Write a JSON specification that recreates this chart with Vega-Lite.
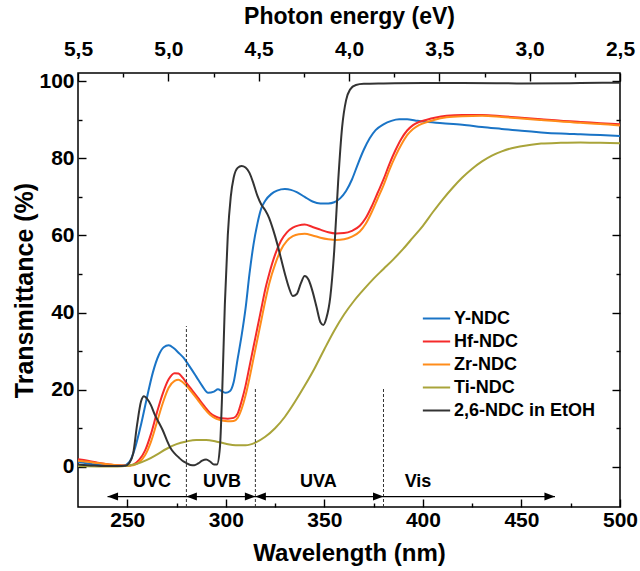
{
  "$schema": "https://vega.github.io/schema/vega-lite/v6.json",
  "width": 542,
  "height": 434,
  "autosize": {"type": "none"},
  "padding": {"left": 78, "top": 73, "right": 20, "bottom": 64},
  "config": {
    "view": {"stroke": "black", "strokeWidth": 1.5},
    "font": "Liberation Sans",
    "axis": {
      "domain": false,
      "grid": false,
      "tickColor": "black",
      "tickWidth": 1.4,
      "labelColor": "black",
      "titleColor": "black",
      "labelFont": "Liberation Sans",
      "titleFont": "Liberation Sans",
      "labelFontWeight": "bold",
      "titleFontWeight": "bold",
      "labelFontSize": 21,
      "titleFontSize": 24,
      "labelFlush": false,
      "labelOverlap": false
    }
  },
  "datasets": {
    "spectra": [
      {"s": "Y-NDC", "w": 225, "t": 1.3}, {"s": "Y-NDC", "w": 230, "t": 0.9}, {"s": "Y-NDC", "w": 235, "t": 0.6}, {"s": "Y-NDC", "w": 240, "t": 0.4}, {"s": "Y-NDC", "w": 245, "t": 0.3}, {"s": "Y-NDC", "w": 248, "t": 0.3}, {"s": "Y-NDC", "w": 251, "t": 1.2}, {"s": "Y-NDC", "w": 254, "t": 5}, {"s": "Y-NDC", "w": 257, "t": 11}, {"s": "Y-NDC", "w": 260, "t": 18}, {"s": "Y-NDC", "w": 263, "t": 24.5}, {"s": "Y-NDC", "w": 266, "t": 29}, {"s": "Y-NDC", "w": 268.5, "t": 31}, {"s": "Y-NDC", "w": 271, "t": 31.5}, {"s": "Y-NDC", "w": 273.5, "t": 30.8}, {"s": "Y-NDC", "w": 276, "t": 29.6}, {"s": "Y-NDC", "w": 278.5, "t": 28.3}, {"s": "Y-NDC", "w": 281, "t": 26.5}, {"s": "Y-NDC", "w": 285, "t": 23.4}, {"s": "Y-NDC", "w": 288, "t": 21}, {"s": "Y-NDC", "w": 291, "t": 19.2}, {"s": "Y-NDC", "w": 294, "t": 19.5}, {"s": "Y-NDC", "w": 296, "t": 20.1}, {"s": "Y-NDC", "w": 298, "t": 19.6}, {"s": "Y-NDC", "w": 300, "t": 19.2}, {"s": "Y-NDC", "w": 302, "t": 19.6}, {"s": "Y-NDC", "w": 304, "t": 22}, {"s": "Y-NDC", "w": 306, "t": 28}, {"s": "Y-NDC", "w": 308, "t": 34}, {"s": "Y-NDC", "w": 310, "t": 41}, {"s": "Y-NDC", "w": 312, "t": 50}, {"s": "Y-NDC", "w": 314, "t": 57.5}, {"s": "Y-NDC", "w": 316, "t": 63}, {"s": "Y-NDC", "w": 318, "t": 67}, {"s": "Y-NDC", "w": 320, "t": 69}, {"s": "Y-NDC", "w": 323, "t": 70.7}, {"s": "Y-NDC", "w": 326, "t": 71.6}, {"s": "Y-NDC", "w": 330, "t": 72}, {"s": "Y-NDC", "w": 333, "t": 71.8}, {"s": "Y-NDC", "w": 336, "t": 71.2}, {"s": "Y-NDC", "w": 340, "t": 70}, {"s": "Y-NDC", "w": 344, "t": 68.8}, {"s": "Y-NDC", "w": 348, "t": 68.3}, {"s": "Y-NDC", "w": 352, "t": 68.3}, {"s": "Y-NDC", "w": 355, "t": 68.6}, {"s": "Y-NDC", "w": 358, "t": 69.6}, {"s": "Y-NDC", "w": 361, "t": 71.5}, {"s": "Y-NDC", "w": 364, "t": 74.5}, {"s": "Y-NDC", "w": 367, "t": 78.5}, {"s": "Y-NDC", "w": 370, "t": 82.2}, {"s": "Y-NDC", "w": 373, "t": 85.2}, {"s": "Y-NDC", "w": 376, "t": 87.3}, {"s": "Y-NDC", "w": 380, "t": 88.8}, {"s": "Y-NDC", "w": 384, "t": 89.7}, {"s": "Y-NDC", "w": 388, "t": 90.1}, {"s": "Y-NDC", "w": 392, "t": 90.1}, {"s": "Y-NDC", "w": 396, "t": 89.8}, {"s": "Y-NDC", "w": 400, "t": 89.5}, {"s": "Y-NDC", "w": 410, "t": 89.1}, {"s": "Y-NDC", "w": 420, "t": 88.7}, {"s": "Y-NDC", "w": 430, "t": 88.1}, {"s": "Y-NDC", "w": 440, "t": 87.6}, {"s": "Y-NDC", "w": 450, "t": 87.1}, {"s": "Y-NDC", "w": 460, "t": 86.7}, {"s": "Y-NDC", "w": 470, "t": 86.4}, {"s": "Y-NDC", "w": 480, "t": 86.2}, {"s": "Y-NDC", "w": 490, "t": 86}, {"s": "Y-NDC", "w": 500, "t": 85.8},

      {"s": "Hf-NDC", "w": 225, "t": 2}, {"s": "Hf-NDC", "w": 230, "t": 1.6}, {"s": "Hf-NDC", "w": 235, "t": 1.1}, {"s": "Hf-NDC", "w": 240, "t": 0.7}, {"s": "Hf-NDC", "w": 245, "t": 0.4}, {"s": "Hf-NDC", "w": 250, "t": 0.3}, {"s": "Hf-NDC", "w": 253, "t": 0.6}, {"s": "Hf-NDC", "w": 256, "t": 1.8}, {"s": "Hf-NDC", "w": 259, "t": 4.2}, {"s": "Hf-NDC", "w": 262, "t": 8.5}, {"s": "Hf-NDC", "w": 265, "t": 14}, {"s": "Hf-NDC", "w": 268, "t": 19}, {"s": "Hf-NDC", "w": 271, "t": 22.7}, {"s": "Hf-NDC", "w": 274, "t": 24.3}, {"s": "Hf-NDC", "w": 276, "t": 24.2}, {"s": "Hf-NDC", "w": 278, "t": 23.2}, {"s": "Hf-NDC", "w": 280, "t": 21.8}, {"s": "Hf-NDC", "w": 283, "t": 19.8}, {"s": "Hf-NDC", "w": 286, "t": 17.8}, {"s": "Hf-NDC", "w": 289, "t": 15.8}, {"s": "Hf-NDC", "w": 292, "t": 14}, {"s": "Hf-NDC", "w": 295, "t": 13}, {"s": "Hf-NDC", "w": 298, "t": 12.6}, {"s": "Hf-NDC", "w": 301, "t": 12.5}, {"s": "Hf-NDC", "w": 304, "t": 12.7}, {"s": "Hf-NDC", "w": 306, "t": 13.8}, {"s": "Hf-NDC", "w": 308, "t": 17}, {"s": "Hf-NDC", "w": 310, "t": 21}, {"s": "Hf-NDC", "w": 312, "t": 26}, {"s": "Hf-NDC", "w": 314, "t": 31}, {"s": "Hf-NDC", "w": 316, "t": 36}, {"s": "Hf-NDC", "w": 318, "t": 41}, {"s": "Hf-NDC", "w": 320, "t": 46}, {"s": "Hf-NDC", "w": 322, "t": 50}, {"s": "Hf-NDC", "w": 325, "t": 55}, {"s": "Hf-NDC", "w": 328, "t": 58.6}, {"s": "Hf-NDC", "w": 331, "t": 60.8}, {"s": "Hf-NDC", "w": 334, "t": 62}, {"s": "Hf-NDC", "w": 337, "t": 62.6}, {"s": "Hf-NDC", "w": 340, "t": 62.8}, {"s": "Hf-NDC", "w": 344, "t": 62.2}, {"s": "Hf-NDC", "w": 348, "t": 61.5}, {"s": "Hf-NDC", "w": 352, "t": 60.8}, {"s": "Hf-NDC", "w": 356, "t": 60.5}, {"s": "Hf-NDC", "w": 360, "t": 60.6}, {"s": "Hf-NDC", "w": 364, "t": 61.2}, {"s": "Hf-NDC", "w": 368, "t": 62.5}, {"s": "Hf-NDC", "w": 371, "t": 64.5}, {"s": "Hf-NDC", "w": 374, "t": 67.5}, {"s": "Hf-NDC", "w": 377, "t": 71}, {"s": "Hf-NDC", "w": 380, "t": 74.5}, {"s": "Hf-NDC", "w": 383, "t": 78.5}, {"s": "Hf-NDC", "w": 386, "t": 82}, {"s": "Hf-NDC", "w": 389, "t": 85}, {"s": "Hf-NDC", "w": 392, "t": 87.2}, {"s": "Hf-NDC", "w": 395, "t": 88.6}, {"s": "Hf-NDC", "w": 398, "t": 89.4}, {"s": "Hf-NDC", "w": 402, "t": 90}, {"s": "Hf-NDC", "w": 406, "t": 90.5}, {"s": "Hf-NDC", "w": 412, "t": 91}, {"s": "Hf-NDC", "w": 420, "t": 91.2}, {"s": "Hf-NDC", "w": 430, "t": 91.2}, {"s": "Hf-NDC", "w": 440, "t": 90.9}, {"s": "Hf-NDC", "w": 450, "t": 90.5}, {"s": "Hf-NDC", "w": 460, "t": 90.1}, {"s": "Hf-NDC", "w": 470, "t": 89.7}, {"s": "Hf-NDC", "w": 480, "t": 89.4}, {"s": "Hf-NDC", "w": 490, "t": 89.1}, {"s": "Hf-NDC", "w": 500, "t": 88.8},

      {"s": "Zr-NDC", "w": 225, "t": 1.6}, {"s": "Zr-NDC", "w": 230, "t": 1.3}, {"s": "Zr-NDC", "w": 235, "t": 1}, {"s": "Zr-NDC", "w": 240, "t": 0.7}, {"s": "Zr-NDC", "w": 245, "t": 0.4}, {"s": "Zr-NDC", "w": 250, "t": 0.3}, {"s": "Zr-NDC", "w": 253, "t": 0.4}, {"s": "Zr-NDC", "w": 256, "t": 1.2}, {"s": "Zr-NDC", "w": 259, "t": 3}, {"s": "Zr-NDC", "w": 262, "t": 6.5}, {"s": "Zr-NDC", "w": 265, "t": 11.5}, {"s": "Zr-NDC", "w": 268, "t": 16.5}, {"s": "Zr-NDC", "w": 271, "t": 20.5}, {"s": "Zr-NDC", "w": 274, "t": 22.3}, {"s": "Zr-NDC", "w": 276, "t": 22.6}, {"s": "Zr-NDC", "w": 278, "t": 22}, {"s": "Zr-NDC", "w": 280, "t": 21}, {"s": "Zr-NDC", "w": 283, "t": 19.2}, {"s": "Zr-NDC", "w": 286, "t": 17.2}, {"s": "Zr-NDC", "w": 289, "t": 15.2}, {"s": "Zr-NDC", "w": 292, "t": 13.5}, {"s": "Zr-NDC", "w": 295, "t": 12.5}, {"s": "Zr-NDC", "w": 298, "t": 12}, {"s": "Zr-NDC", "w": 301, "t": 11.8}, {"s": "Zr-NDC", "w": 304, "t": 11.9}, {"s": "Zr-NDC", "w": 306, "t": 12.7}, {"s": "Zr-NDC", "w": 308, "t": 15}, {"s": "Zr-NDC", "w": 310, "t": 18.5}, {"s": "Zr-NDC", "w": 312, "t": 23}, {"s": "Zr-NDC", "w": 314, "t": 28}, {"s": "Zr-NDC", "w": 316, "t": 33}, {"s": "Zr-NDC", "w": 318, "t": 38}, {"s": "Zr-NDC", "w": 320, "t": 43}, {"s": "Zr-NDC", "w": 322, "t": 47.5}, {"s": "Zr-NDC", "w": 325, "t": 52.5}, {"s": "Zr-NDC", "w": 328, "t": 56.3}, {"s": "Zr-NDC", "w": 331, "t": 58.6}, {"s": "Zr-NDC", "w": 334, "t": 59.8}, {"s": "Zr-NDC", "w": 337, "t": 60.3}, {"s": "Zr-NDC", "w": 340, "t": 60.4}, {"s": "Zr-NDC", "w": 344, "t": 60}, {"s": "Zr-NDC", "w": 348, "t": 59.4}, {"s": "Zr-NDC", "w": 352, "t": 59}, {"s": "Zr-NDC", "w": 356, "t": 58.8}, {"s": "Zr-NDC", "w": 360, "t": 59}, {"s": "Zr-NDC", "w": 364, "t": 59.7}, {"s": "Zr-NDC", "w": 368, "t": 61}, {"s": "Zr-NDC", "w": 371, "t": 63}, {"s": "Zr-NDC", "w": 374, "t": 66}, {"s": "Zr-NDC", "w": 377, "t": 69.5}, {"s": "Zr-NDC", "w": 380, "t": 73}, {"s": "Zr-NDC", "w": 383, "t": 77}, {"s": "Zr-NDC", "w": 386, "t": 80.5}, {"s": "Zr-NDC", "w": 389, "t": 83.5}, {"s": "Zr-NDC", "w": 392, "t": 86}, {"s": "Zr-NDC", "w": 395, "t": 87.6}, {"s": "Zr-NDC", "w": 398, "t": 88.6}, {"s": "Zr-NDC", "w": 402, "t": 89.4}, {"s": "Zr-NDC", "w": 406, "t": 90}, {"s": "Zr-NDC", "w": 412, "t": 90.6}, {"s": "Zr-NDC", "w": 420, "t": 90.9}, {"s": "Zr-NDC", "w": 430, "t": 91}, {"s": "Zr-NDC", "w": 440, "t": 90.7}, {"s": "Zr-NDC", "w": 450, "t": 90.3}, {"s": "Zr-NDC", "w": 460, "t": 89.9}, {"s": "Zr-NDC", "w": 470, "t": 89.5}, {"s": "Zr-NDC", "w": 480, "t": 89.2}, {"s": "Zr-NDC", "w": 490, "t": 88.9}, {"s": "Zr-NDC", "w": 500, "t": 88.5},

      {"s": "Ti-NDC", "w": 225, "t": 0.2}, {"s": "Ti-NDC", "w": 235, "t": 0.1}, {"s": "Ti-NDC", "w": 245, "t": 0.1}, {"s": "Ti-NDC", "w": 250, "t": 0.3}, {"s": "Ti-NDC", "w": 255, "t": 0.8}, {"s": "Ti-NDC", "w": 260, "t": 1.8}, {"s": "Ti-NDC", "w": 265, "t": 3.2}, {"s": "Ti-NDC", "w": 270, "t": 4.7}, {"s": "Ti-NDC", "w": 275, "t": 5.9}, {"s": "Ti-NDC", "w": 280, "t": 6.6}, {"s": "Ti-NDC", "w": 285, "t": 7}, {"s": "Ti-NDC", "w": 290, "t": 7}, {"s": "Ti-NDC", "w": 295, "t": 6.6}, {"s": "Ti-NDC", "w": 300, "t": 6}, {"s": "Ti-NDC", "w": 305, "t": 5.6}, {"s": "Ti-NDC", "w": 310, "t": 5.6}, {"s": "Ti-NDC", "w": 315, "t": 6.3}, {"s": "Ti-NDC", "w": 320, "t": 7.8}, {"s": "Ti-NDC", "w": 325, "t": 10}, {"s": "Ti-NDC", "w": 330, "t": 13}, {"s": "Ti-NDC", "w": 335, "t": 16.8}, {"s": "Ti-NDC", "w": 340, "t": 21}, {"s": "Ti-NDC", "w": 345, "t": 25.5}, {"s": "Ti-NDC", "w": 350, "t": 30.5}, {"s": "Ti-NDC", "w": 355, "t": 35.3}, {"s": "Ti-NDC", "w": 360, "t": 39.5}, {"s": "Ti-NDC", "w": 365, "t": 43}, {"s": "Ti-NDC", "w": 370, "t": 46}, {"s": "Ti-NDC", "w": 375, "t": 48.8}, {"s": "Ti-NDC", "w": 380, "t": 51.3}, {"s": "Ti-NDC", "w": 385, "t": 53.8}, {"s": "Ti-NDC", "w": 390, "t": 56.5}, {"s": "Ti-NDC", "w": 395, "t": 59.5}, {"s": "Ti-NDC", "w": 400, "t": 62.5}, {"s": "Ti-NDC", "w": 405, "t": 66}, {"s": "Ti-NDC", "w": 410, "t": 69.3}, {"s": "Ti-NDC", "w": 415, "t": 72.3}, {"s": "Ti-NDC", "w": 420, "t": 75}, {"s": "Ti-NDC", "w": 425, "t": 77.3}, {"s": "Ti-NDC", "w": 430, "t": 79.2}, {"s": "Ti-NDC", "w": 435, "t": 80.7}, {"s": "Ti-NDC", "w": 440, "t": 81.8}, {"s": "Ti-NDC", "w": 445, "t": 82.6}, {"s": "Ti-NDC", "w": 450, "t": 83.1}, {"s": "Ti-NDC", "w": 455, "t": 83.5}, {"s": "Ti-NDC", "w": 460, "t": 83.8}, {"s": "Ti-NDC", "w": 470, "t": 84}, {"s": "Ti-NDC", "w": 480, "t": 84.1}, {"s": "Ti-NDC", "w": 490, "t": 84}, {"s": "Ti-NDC", "w": 500, "t": 83.9},

      {"s": "2,6-NDC in EtOH", "w": 225, "t": 0.6}, {"s": "2,6-NDC in EtOH", "w": 230, "t": 0.4}, {"s": "2,6-NDC in EtOH", "w": 235, "t": 0.3}, {"s": "2,6-NDC in EtOH", "w": 240, "t": 0.2}, {"s": "2,6-NDC in EtOH", "w": 245, "t": 0.2}, {"s": "2,6-NDC in EtOH", "w": 249, "t": 0.3}, {"s": "2,6-NDC in EtOH", "w": 251, "t": 1}, {"s": "2,6-NDC in EtOH", "w": 253, "t": 3.5}, {"s": "2,6-NDC in EtOH", "w": 255, "t": 11}, {"s": "2,6-NDC in EtOH", "w": 257, "t": 17}, {"s": "2,6-NDC in EtOH", "w": 258.5, "t": 18.3}, {"s": "2,6-NDC in EtOH", "w": 260, "t": 17.7}, {"s": "2,6-NDC in EtOH", "w": 262, "t": 16}, {"s": "2,6-NDC in EtOH", "w": 264, "t": 13.5}, {"s": "2,6-NDC in EtOH", "w": 266, "t": 11.5}, {"s": "2,6-NDC in EtOH", "w": 268, "t": 9.5}, {"s": "2,6-NDC in EtOH", "w": 270, "t": 7}, {"s": "2,6-NDC in EtOH", "w": 272, "t": 4.8}, {"s": "2,6-NDC in EtOH", "w": 274, "t": 3.5}, {"s": "2,6-NDC in EtOH", "w": 276, "t": 2.5}, {"s": "2,6-NDC in EtOH", "w": 278, "t": 1.6}, {"s": "2,6-NDC in EtOH", "w": 280, "t": 1}, {"s": "2,6-NDC in EtOH", "w": 282, "t": 0.5}, {"s": "2,6-NDC in EtOH", "w": 284, "t": 0.4}, {"s": "2,6-NDC in EtOH", "w": 286, "t": 0.9}, {"s": "2,6-NDC in EtOH", "w": 288, "t": 1.6}, {"s": "2,6-NDC in EtOH", "w": 290, "t": 1.9}, {"s": "2,6-NDC in EtOH", "w": 292, "t": 1.4}, {"s": "2,6-NDC in EtOH", "w": 294, "t": 0.6}, {"s": "2,6-NDC in EtOH", "w": 295.5, "t": 0.6}, {"s": "2,6-NDC in EtOH", "w": 297, "t": 5}, {"s": "2,6-NDC in EtOH", "w": 298.2, "t": 20}, {"s": "2,6-NDC in EtOH", "w": 299.5, "t": 42}, {"s": "2,6-NDC in EtOH", "w": 301, "t": 60}, {"s": "2,6-NDC in EtOH", "w": 302.5, "t": 70}, {"s": "2,6-NDC in EtOH", "w": 304, "t": 75}, {"s": "2,6-NDC in EtOH", "w": 306, "t": 77.5}, {"s": "2,6-NDC in EtOH", "w": 308, "t": 78}, {"s": "2,6-NDC in EtOH", "w": 310, "t": 77.6}, {"s": "2,6-NDC in EtOH", "w": 312, "t": 76.2}, {"s": "2,6-NDC in EtOH", "w": 314, "t": 73.5}, {"s": "2,6-NDC in EtOH", "w": 316, "t": 70.3}, {"s": "2,6-NDC in EtOH", "w": 318, "t": 68}, {"s": "2,6-NDC in EtOH", "w": 320, "t": 66.5}, {"s": "2,6-NDC in EtOH", "w": 322, "t": 64.5}, {"s": "2,6-NDC in EtOH", "w": 324, "t": 61.5}, {"s": "2,6-NDC in EtOH", "w": 326, "t": 58}, {"s": "2,6-NDC in EtOH", "w": 328, "t": 54}, {"s": "2,6-NDC in EtOH", "w": 330, "t": 50}, {"s": "2,6-NDC in EtOH", "w": 332, "t": 46.5}, {"s": "2,6-NDC in EtOH", "w": 334, "t": 44.3}, {"s": "2,6-NDC in EtOH", "w": 336, "t": 44.8}, {"s": "2,6-NDC in EtOH", "w": 338, "t": 47.5}, {"s": "2,6-NDC in EtOH", "w": 340, "t": 49.5}, {"s": "2,6-NDC in EtOH", "w": 342, "t": 48.5}, {"s": "2,6-NDC in EtOH", "w": 344, "t": 45.5}, {"s": "2,6-NDC in EtOH", "w": 346, "t": 41.5}, {"s": "2,6-NDC in EtOH", "w": 348, "t": 37.5}, {"s": "2,6-NDC in EtOH", "w": 349.5, "t": 36.8}, {"s": "2,6-NDC in EtOH", "w": 351, "t": 38.5}, {"s": "2,6-NDC in EtOH", "w": 353, "t": 44}, {"s": "2,6-NDC in EtOH", "w": 355, "t": 56}, {"s": "2,6-NDC in EtOH", "w": 357, "t": 74}, {"s": "2,6-NDC in EtOH", "w": 359, "t": 88}, {"s": "2,6-NDC in EtOH", "w": 361, "t": 95}, {"s": "2,6-NDC in EtOH", "w": 363, "t": 97.8}, {"s": "2,6-NDC in EtOH", "w": 366, "t": 99}, {"s": "2,6-NDC in EtOH", "w": 370, "t": 99.3}, {"s": "2,6-NDC in EtOH", "w": 380, "t": 99.4}, {"s": "2,6-NDC in EtOH", "w": 400, "t": 99.5}, {"s": "2,6-NDC in EtOH", "w": 420, "t": 99.5}, {"s": "2,6-NDC in EtOH", "w": 450, "t": 99.4}, {"s": "2,6-NDC in EtOH", "w": 480, "t": 99.5}, {"s": "2,6-NDC in EtOH", "w": 500, "t": 99.6}
    ],
    "dashes": [
      {"w": 280, "t": -10.4, "t2": 36.5},
      {"w": 315, "t": -10.4, "t2": 20.5},
      {"w": 380, "t": -10.4, "t2": 20.5}
    ],
    "bands": [
      {"label": "UVC", "w": 262.5, "t": -4},
      {"label": "UVB", "w": 298, "t": -4},
      {"label": "UVA", "w": 347, "t": -4},
      {"label": "Vis", "w": 397.5, "t": -4}
    ],
    "headsLeft": [{"w": 240, "t": -7.7}, {"w": 280, "t": -7.7}, {"w": 315, "t": -7.7}],
    "headsRight": [{"w": 315, "t": -7.7}, {"w": 380, "t": -7.7}, {"w": 467, "t": -7.7}],
    "arrowLine": [{"w": 240, "w2": 467, "t": -7.7}],
    "energy": [{"e": 5.5, "t": 0}, {"e": 2.5, "t": 0}]
  },
  "layer": [
    {
      "layer": [
        {
          "data": {"name": "spectra"},
          "mark": {"type": "line", "interpolate": "monotone", "strokeWidth": 2},
          "encoding": {
            "x": {
              "field": "w", "type": "quantitative",
              "scale": {"domain": [225, 500], "nice": false, "zero": false},
              "axis": {
                "orient": "bottom",
                "title": "Wavelength (nm)",
                "values": [250, 275, 300, 325, 350, 375, 400, 425, 450, 475, 500],
                "labelExpr": "datum.value % 50 === 0 ? datum.label : ''",
                "tickSize": {"condition": {"test": "datum.value % 50 === 0", "value": -8}, "value": -4},
                "labelPadding": 10,
                "titlePadding": 7
              }
            },
            "y": {
              "field": "t", "type": "quantitative",
              "scale": {"domain": [-10.4, 102.1], "nice": false, "zero": false},
              "axis": {
                "orient": "left",
                "title": "Transmittance (%)",
                "titleFontSize": 25,
                "values": [0, 10, 20, 30, 40, 50, 60, 70, 80, 90, 100],
                "labelExpr": "datum.value % 20 === 0 ? datum.label : ''",
                "tickSize": {"condition": {"test": "datum.value % 20 === 0", "value": -8}, "value": -4},
                "labelPadding": 12,
                "titlePadding": 1
              }
            },
            "color": {
              "field": "s", "type": "nominal",
              "scale": {
                "domain": ["Y-NDC", "Hf-NDC", "Zr-NDC", "Ti-NDC", "2,6-NDC in EtOH"],
                "range": ["#1a74c6", "#f52a2a", "#ff8c1a", "#a9a43a", "#333333"]
              },
              "legend": {
                "orient": "none",
                "legendX": 347,
                "legendY": 234,
                "title": null,
                "symbolType": "M-1.3,0L1.3,0",
                "symbolSize": 441,
                "symbolStrokeWidth": 2,
                "labelFontSize": 18,
                "labelFontWeight": "bold",
                "labelFont": "Liberation Sans",
                "labelColor": "black",
                "rowPadding": 2,
                "labelOffset": 6
              }
            }
          }
        },
        {
          "data": {"name": "dashes"},
          "mark": {"type": "rule", "strokeDash": [3, 2], "color": "#333333", "strokeWidth": 1},
          "encoding": {
            "x": {"field": "w", "type": "quantitative"},
            "y": {"field": "t", "type": "quantitative"},
            "y2": {"field": "t2"}
          }
        },
        {
          "data": {"name": "arrowLine"},
          "mark": {"type": "rule", "color": "black", "strokeWidth": 1.3},
          "encoding": {
            "x": {"field": "w", "type": "quantitative"},
            "x2": {"field": "w2"},
            "y": {"field": "t", "type": "quantitative"}
          }
        },
        {
          "data": {"name": "headsLeft"},
          "mark": {"type": "point", "shape": "M0,0L1,-0.38L1,0.38Z", "filled": true, "color": "black", "opacity": 1, "size": 441},
          "encoding": {
            "x": {"field": "w", "type": "quantitative"},
            "y": {"field": "t", "type": "quantitative"}
          }
        },
        {
          "data": {"name": "headsRight"},
          "mark": {"type": "point", "shape": "M0,0L-1,-0.38L-1,0.38Z", "filled": true, "color": "black", "opacity": 1, "size": 441},
          "encoding": {
            "x": {"field": "w", "type": "quantitative"},
            "y": {"field": "t", "type": "quantitative"}
          }
        },
        {
          "data": {"name": "bands"},
          "mark": {"type": "text", "font": "Liberation Sans", "fontWeight": "bold", "fontSize": 18, "color": "black", "baseline": "middle", "align": "center"},
          "encoding": {
            "x": {"field": "w", "type": "quantitative"},
            "y": {"field": "t", "type": "quantitative"},
            "text": {"field": "label"}
          }
        }
      ]
    },
    {
      "data": {"name": "energy"},
      "mark": {"type": "point", "opacity": 0},
      "encoding": {
        "x": {
          "field": "e", "type": "quantitative",
          "scale": {"domain": [2.5, 5.5], "reverse": true, "nice": false, "zero": false},
          "axis": {
            "orient": "top",
            "title": "Photon energy (eV)",
            "titleFontSize": 23,
            "values": [5.5, 5.25, 5.0, 4.75, 4.5, 4.25, 4.0, 3.75, 3.5, 3.25, 3.0, 2.75, 2.5],
            "labelExpr": "abs(datum.value * 2 - round(datum.value * 2)) < 0.001 ? replace(format(datum.value, '.1f'), '.', ',') : ''",
            "tickSize": {"condition": {"test": "abs(datum.value * 2 - round(datum.value * 2)) < 0.001", "value": -8}, "value": -4},
            "labelPadding": 22,
            "titlePadding": 6
          }
        },
        "y": {
          "field": "t", "type": "quantitative",
          "scale": {"domain": [-10.4, 102.1], "nice": false, "zero": false},
          "axis": {
            "orient": "right",
            "title": null,
            "labels": false,
            "values": [0, 10, 20, 30, 40, 50, 60, 70, 80, 90, 100],
            "tickSize": {"condition": {"test": "datum.value % 20 === 0", "value": -8}, "value": -4}
          }
        }
      }
    }
  ],
  "resolve": {"scale": {"x": "independent", "y": "independent"}}
}
